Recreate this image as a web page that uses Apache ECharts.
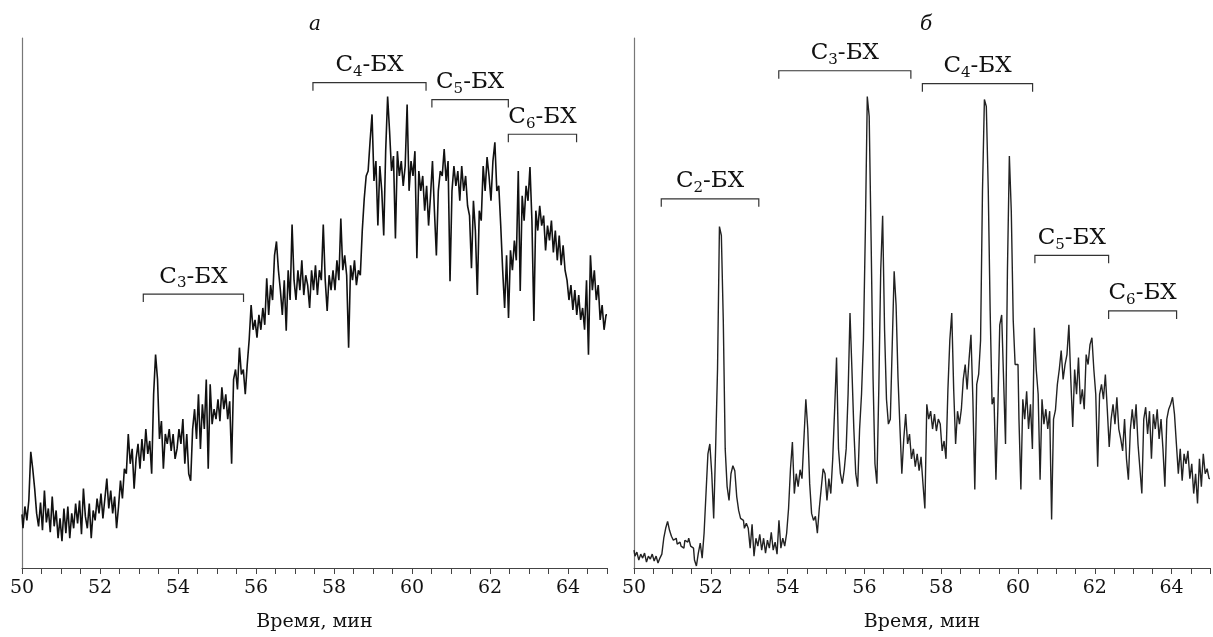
<!DOCTYPE html>
<html lang="ru">
<head>
    <meta charset="UTF-8">
    <title>Хроматограммы а, б</title>
    <script src="https://cdn.jsdelivr.net/npm/echarts@6/dist/echarts.min.js"></script>
    <style>
        html, body, #chart {
            width: 100%;
            height: 100%;
            padding: 0;
            margin: 0;
            background: #fff;
        }
    </style>
</head>
<body>
<div id="chart"></div>
<script>
    // time axis: samples every 0.05 min starting at 50 min
    var startTime = 50;
    var timeStep = 0.05;
    var xTicks = [50, 52, 54, 56, 58, 60, 62, 64];
    var panelTitles = ["а", "б"];
    var axisTitle = "Время, мин";

    // panel a (signal, one row per minute)
    var intensityA = [
        54, 40, 62, 48, 68, 117, 100, 80, 55, 42, 66, 38, 78, 46, 60, 36, 72, 42, 58, 30,
        50, 27, 60, 35, 62, 30, 55, 40, 65, 45, 68, 34, 80, 52, 40, 65, 30, 58, 48, 70,
        55, 75, 50, 70, 90, 60, 78, 55, 72, 40, 62, 88, 70, 100, 95, 135, 105, 120, 80, 110,
        125, 100, 130, 108, 140, 115, 128, 95, 175, 215, 190, 130, 148, 100, 135, 125, 140, 118, 135, 110,
        120, 140, 125, 150, 105, 135, 95, 88, 140, 160, 130, 175, 120, 165, 140, 190, 100, 185, 145, 160,
        150, 170, 148, 182, 160, 175, 150, 168, 105, 190, 200, 180, 222, 195, 200, 175, 205, 230, 265, 240,
        250, 232, 255, 240, 262, 245, 292, 255, 285, 270, 315, 329, 300, 280, 255, 290, 239, 300, 270, 346,
        290, 270, 300, 280, 310, 275, 295, 285, 262, 300, 280, 305, 275, 300, 290, 346, 290, 259, 295, 280,
        300, 280, 310, 290, 352, 300, 315, 295, 222, 305, 290, 310, 285, 300, 295, 340, 372, 395, 400, 430,
        457, 390, 410, 345, 405, 380, 335, 420, 475, 440, 400, 415, 332, 420, 395, 410, 385, 405, 467, 380,
        410, 395, 420, 312, 400, 380, 395, 360, 385, 345, 375, 410, 360, 315, 380, 400, 395, 422, 390, 410,
        289, 380, 405, 385, 400, 370, 405, 380, 395, 365, 355, 302, 370, 340, 275, 360, 350, 405, 380, 414,
        395, 370, 410, 429, 380, 385, 345, 300, 262, 315, 252, 320, 300, 330, 310, 400, 279, 375, 350, 385,
        370, 404, 350, 249, 360, 340, 365, 345, 355, 320, 345, 330, 350, 318, 340, 310, 335, 305, 325, 300,
        290, 270, 285, 260, 280, 255, 275, 250, 262, 240, 290, 215, 315, 280, 300, 270, 285, 250, 265, 240, 255
    ];

    // panel б
    var intensityB = [
        18, 12, 16, 8, 14, 10, 15, 6, 12, 9, 14, 7, 12, 5, 10, 14, 30, 40, 47, 38,
        32, 28, 30, 24, 26, 22, 20, 28, 26, 30, 22, 20, 8, 2, 15, 25, 10, 35, 75, 115,
        125, 95, 50, 120, 200, 344, 335, 250, 120, 82, 68, 95, 103, 98, 72, 58, 50, 48, 40, 45,
        40, 20, 44, 12, 30, 22, 34, 18, 30, 15, 28, 20, 36, 18, 26, 14, 48, 20, 30, 22,
        35, 60, 100, 127, 75, 95, 82, 99, 90, 130, 170, 140, 85, 55, 48, 52, 35, 60, 80, 100,
        95, 68, 90, 75, 110, 160, 212, 120, 95, 85, 99, 120, 175, 257, 200, 140, 95, 82, 140, 175,
        230, 340, 475, 455, 330, 192, 105, 85, 180, 300, 355, 240, 170, 145, 150, 225, 299, 265, 192, 142,
        95, 130, 155, 125, 135, 110, 120, 102, 115, 98, 112, 85, 60, 165, 150, 158, 140, 155, 138, 150,
        145, 118, 128, 110, 180, 230, 257, 180, 125, 158, 145, 160, 190, 205, 180, 210, 235, 170, 79, 185,
        195, 229, 380, 472, 465, 382, 259, 165, 172, 89, 160, 245, 255, 190, 125, 300, 415, 360, 250, 205,
        205, 150, 79, 170, 150, 178, 140, 165, 120, 242, 200, 175, 89, 170, 145, 160, 140, 158, 49, 150,
        159, 185, 200, 219, 190, 205, 215, 245, 190, 142, 200, 175, 212, 165, 180, 160, 215, 205, 225, 232,
        200, 175, 102, 175, 185, 170, 195, 160, 122, 150, 165, 145, 172, 140, 130, 118, 150, 110, 89, 139,
        160, 140, 165, 125, 100, 75, 150, 162, 135, 158, 110, 155, 140, 160, 130, 150, 120, 82, 150, 160,
        165, 172, 155, 125, 95, 120, 88, 115, 105, 118, 90, 105, 75, 95, 65, 110, 82, 115, 95, 100, 90
    ];

    // fraction brackets: carbon number, start / end time, level
    var fracCarbonA = ["3", "4", "5", "6"];
    var fracFromA = [53.11, 57.46, 60.51, 62.47];
    var fracToA = [55.68, 60.36, 62.47, 64.22];
    var fracLevelA = [276, 489, 472, 437];

    var fracCarbonB = ["2", "3", "4", "5", "6"];
    var fracFromB = [50.71, 53.77, 57.51, 60.44, 62.36];
    var fracToB = [53.25, 57.21, 60.38, 62.36, 64.13];
    var fracLevelB = [372, 501, 488, 315, 259];

    var serif = "DejaVu Serif";

    function toPairs(values) {
        return values.map(function (v, i) {
            return [+(startTime + i * timeStep).toFixed(2), v];
        });
    }

    function bracketData(from, to, level) {
        return from.map(function (f, i) {
            return [f, to[i], level[i]];
        });
    }

    function bracketRenderer(carbons) {
        return function (params, api) {
            var p1 = api.coord([api.value(0), api.value(2)]);
            var p2 = api.coord([api.value(1), api.value(2)]);
            var tick = 8;
            return {
                type: "group",
                children: [{
                    type: "polyline",
                    shape: {points: [[p1[0], p1[1] + tick], [p1[0], p1[1]], [p2[0], p2[1]], [p2[0], p2[1] + tick]]},
                    style: {stroke: "#333", lineWidth: 1.2, fill: null}
                }, {
                    type: "text",
                    x: (p1[0] + p2[0]) / 2,
                    y: p1[1] - 3,
                    style: {
                        text: "{n|C}{s|" + carbons[params.dataIndex] + "}{n|-БХ}",
                        align: "center",
                        verticalAlign: "bottom",
                        fill: "#111",
                        rich: {
                            n: {fontFamily: serif, fontSize: 23, lineHeight: 29, fill: "#111"},
                            s: {fontFamily: serif, fontSize: 15, lineHeight: 15, verticalAlign: "bottom", fill: "#111"}
                        }
                    }
                }]
            };
        };
    }

    function makeXAxis(gridIndex) {
        return {
            gridIndex: gridIndex,
            type: "value",
            min: 50,
            max: 65,
            interval: 0.5,
            axisLine: {lineStyle: {color: "#444", width: 1.2}},
            axisTick: {length: 6, lineStyle: {color: "#444", width: 1}},
            axisLabel: {
                margin: 11,
                color: "#111",
                fontFamily: serif,
                fontSize: 19,
                showMaxLabel: true,
                formatter: function (v) {
                    return xTicks.indexOf(v) >= 0 ? String(v) : "";
                }
            },
            splitLine: {show: false},
            name: axisTitle,
            nameLocation: "middle",
            nameGap: 45,
            nameTextStyle: {color: "#111", fontFamily: serif, fontSize: 19}
        };
    }

    function makeYAxis(gridIndex) {
        return {
            gridIndex: gridIndex,
            type: "value",
            min: 0,
            max: 534,
            axisLine: {show: true, lineStyle: {color: "#777", width: 1.2}},
            axisTick: {show: false},
            axisLabel: {show: false},
            splitLine: {show: false}
        };
    }

    var chart = echarts.init(document.getElementById("chart"));

    chart.setOption({
        animation: false,
        backgroundColor: "#fff",
        grid: [
            {left: 22, top: 38, width: 585, bottom: 65},
            {left: 634, top: 38, width: 585, bottom: 65}
        ],
        xAxis: [makeXAxis(0), makeXAxis(1)],
        yAxis: [makeYAxis(0), makeYAxis(1)],
        graphic: [
            {type: "text", x: 315, y: 25, style: {text: panelTitles[0], align: "center", verticalAlign: "middle", font: "italic 20px 'DejaVu Serif'", fill: "#111"}},
            {type: "text", x: 926, y: 25, style: {text: panelTitles[1], align: "center", verticalAlign: "middle", font: "italic 20px 'DejaVu Serif'", fill: "#111"}}
        ],
        series: [{
            type: "line",
            xAxisIndex: 0,
            yAxisIndex: 0,
            data: toPairs(intensityA),
            step: "middle",
            showSymbol: false,
            lineStyle: {color: "#111", width: 1.6}
        }, {
            type: "line",
            xAxisIndex: 1,
            yAxisIndex: 1,
            data: toPairs(intensityB),
            step: "middle",
            showSymbol: false,
            lineStyle: {color: "#222", width: 1.4}
        }, {
            type: "custom",
            xAxisIndex: 0,
            yAxisIndex: 0,
            clip: false,
            encode: {x: [0, 1], y: 2},
            data: bracketData(fracFromA, fracToA, fracLevelA),
            renderItem: bracketRenderer(fracCarbonA)
        }, {
            type: "custom",
            xAxisIndex: 1,
            yAxisIndex: 1,
            clip: false,
            encode: {x: [0, 1], y: 2},
            data: bracketData(fracFromB, fracToB, fracLevelB),
            renderItem: bracketRenderer(fracCarbonB)
        }]
    });
</script>
</body>
</html>
